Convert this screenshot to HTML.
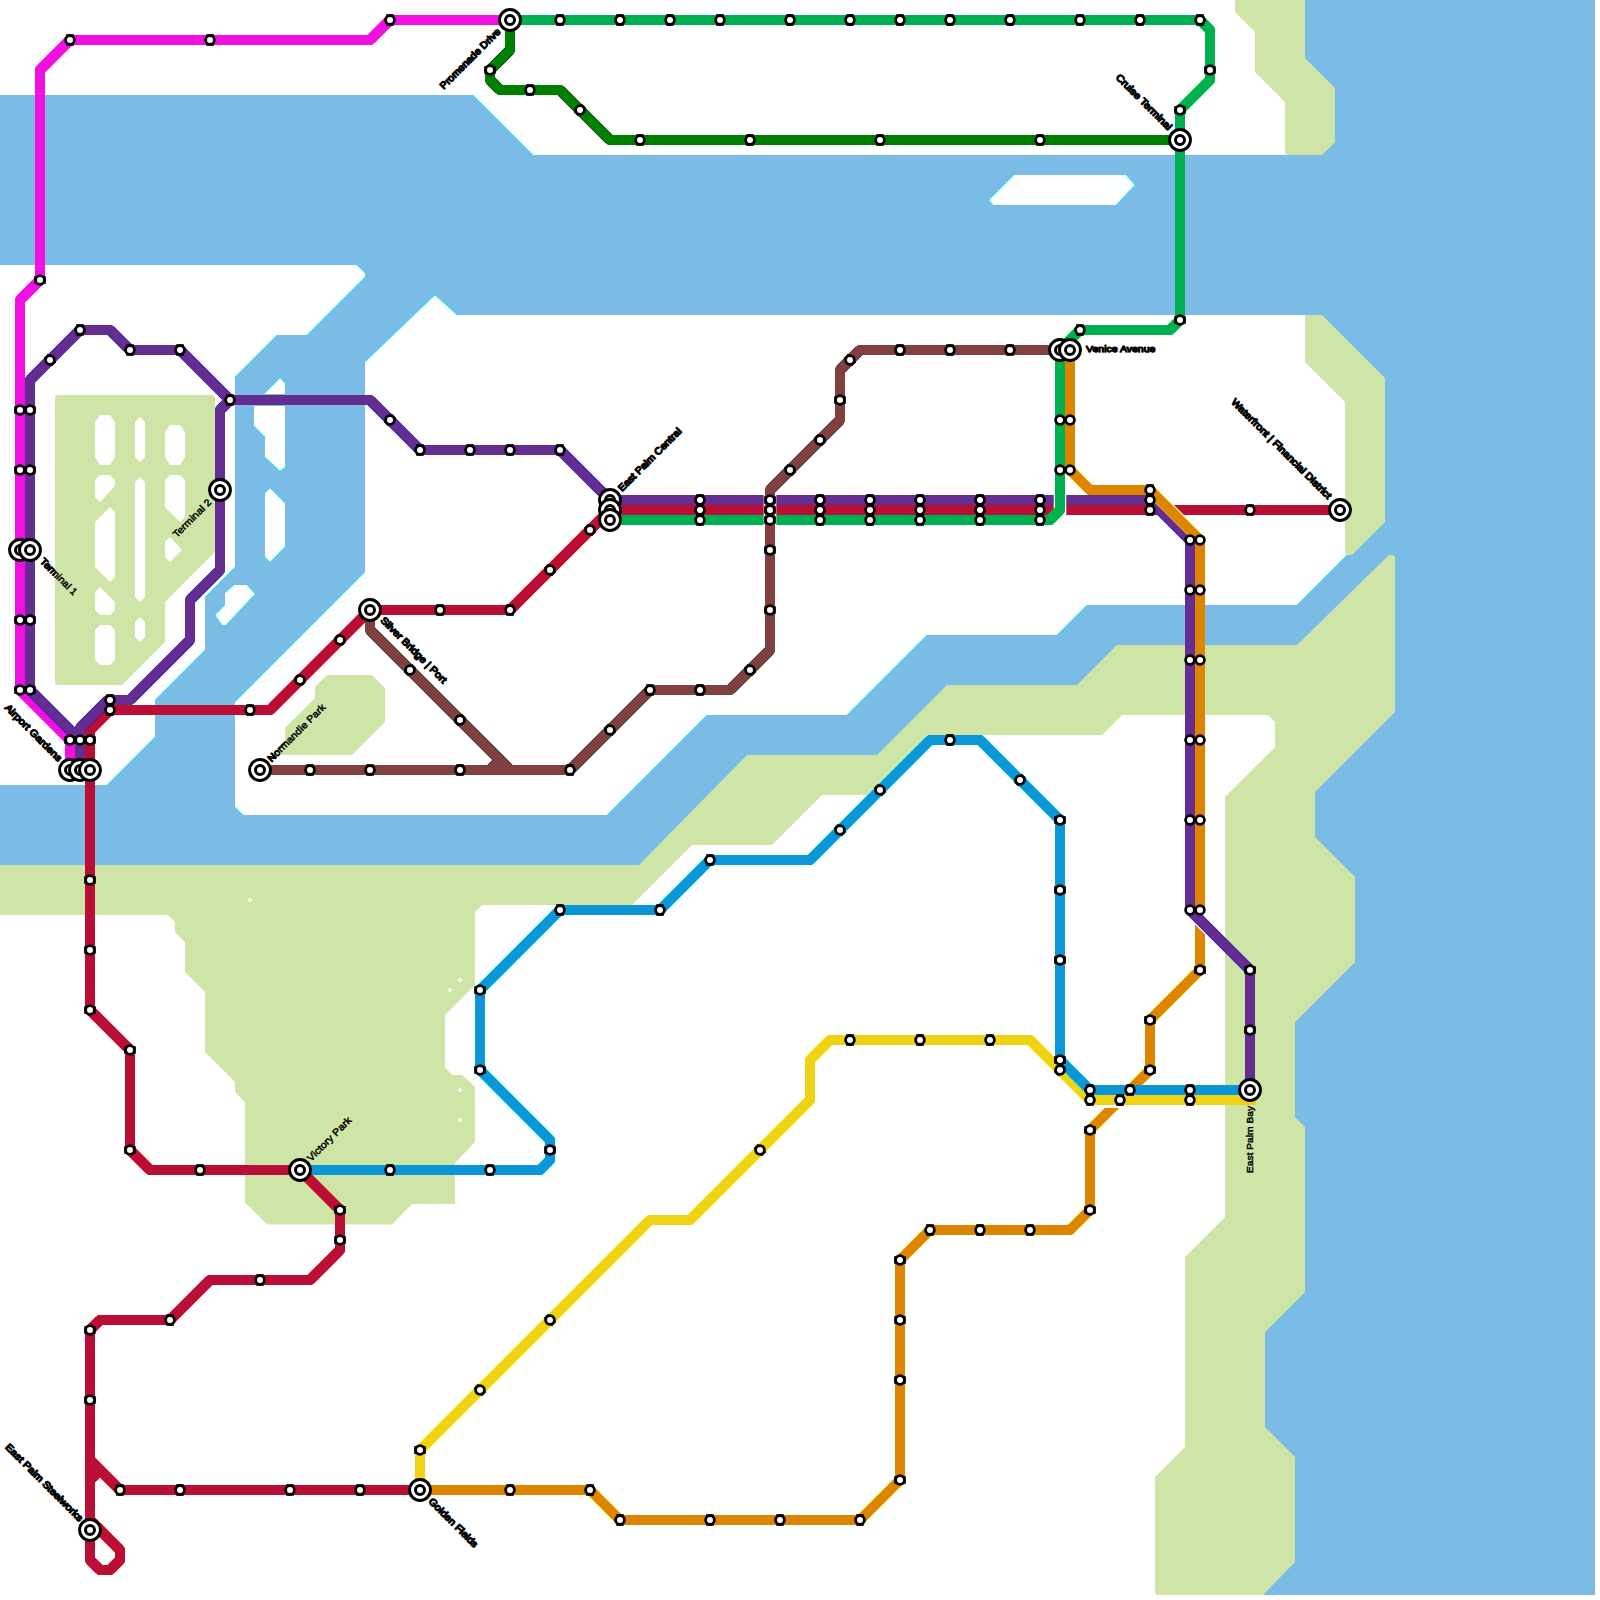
<!DOCTYPE html>
<html><head><meta charset="utf-8"><title>East Palm Transit Map</title>
<style>html,body{margin:0;padding:0;background:#fff}svg{display:block}text{font-family:"Liberation Sans",sans-serif;font-size:9.8px;fill:#000}.b{stroke:#000;stroke-width:1.25px;stroke-linejoin:round}</style>
</head><body>
<svg width="1600" height="1600" viewBox="0 0 1600 1600">
<rect width="1600" height="1600" fill="#fff"/>
<g fill="#7abce6">
<polygon points="0,95 473,95 533,155 1295,155 1295,0 1595,0 1595,1595 1250,1595 1250,1000 1290,960 1290,655 1120,655 1080,695 950,695 880,765 750,765 642,873 0,873 0,785 107,785 155,737 155,700 205,650 205,597 235,567 235,377 277,335 307,335 365,277 365,273 357,265 0,265"/>
</g>
<g fill="#fff">
<polygon points="457,315 1312,315 1312,360 1352,400 1352,550 1347,555 1297,605 1087,605 1057,635 927,635 847,715 707,715 607,815 243,815 235,807 235,702 365,572 365,362 435,295"/>
<polygon points="1014,175 1126,175 1135,185 1116,205 993,205 989,200"/>
<polygon points="264,394 280,378 285,383 285,394"/>
<polygon points="254,406 285,406 285,467 280,471 265,457 265,437 254,426"/>
<polygon points="270,488 285,503 285,547 270,562 265,557 265,493"/>
<polygon points="234,585 247,585 255,594 226,625 222,625 215,615 225,605 225,593"/>
</g>
<path d="M473,95L533,155M1250,1000L1290,960M1120,655L1080,695M950,695L880,765M750,765L642,873M107,785L155,737M155,700L205,650M205,597L235,567M235,377L277,335M307,335L365,277M365,273L357,265M1312,360L1352,400M1352,550L1347,555M1347,555L1297,605M1087,605L1057,635M927,635L847,715M707,715L607,815M243,815L235,807M235,702L365,572M365,362L435,295M435,295L457,315M1126,175L1135,185M1135,185L1116,205M993,205L989,200M989,200L1014,175M264,394L280,378M280,378L285,383M285,467L280,471M280,471L265,457M265,437L254,426M270,488L285,503M285,547L270,562M270,562L265,557M265,493L270,488M247,585L255,594M255,594L226,625M222,625L215,615M215,615L225,605M225,593L234,585" fill="none" stroke="#00ffff" stroke-width="0.8"/>
<g class="b">
<text x="501" y="32.5" text-anchor="end" textLength="81" lengthAdjust="spacingAndGlyphs" transform="rotate(-45 501 32.5)">Promenade Drive</text>
<text x="1168" y="130.7" text-anchor="end" textLength="74.5" lengthAdjust="spacingAndGlyphs" transform="rotate(45 1168 130.7)">Cruise Terminal</text>
<text x="1086" y="351.5" text-anchor="start" textLength="69.4" lengthAdjust="spacingAndGlyphs">Venice Avenue</text>
<text x="1327.5" y="499.5" text-anchor="end" textLength="137" lengthAdjust="spacingAndGlyphs" transform="rotate(45 1327.5 499.5)">Waterfront | Financial District</text>
<text x="622" y="492" text-anchor="start" textLength="85" lengthAdjust="spacingAndGlyphs" transform="rotate(-45 622 492)">East Palm Central</text>
<text x="39.5" y="562" text-anchor="start" textLength="48" lengthAdjust="spacingAndGlyphs" transform="rotate(45 39.5 562)">Terminal 1</text>
<text x="58" y="762" text-anchor="end" textLength="76" lengthAdjust="spacingAndGlyphs" transform="rotate(45 58 762)">Airport Gardens</text>
<text x="271.5" y="762.5" text-anchor="start" textLength="77" lengthAdjust="spacingAndGlyphs" transform="rotate(-45 271.5 762.5)">Normandie Park</text>
<text x="380" y="621" text-anchor="start" textLength="89" lengthAdjust="spacingAndGlyphs" transform="rotate(45 380 621)">Silver Bridge | Port</text>
<text x="79" y="1522" text-anchor="end" textLength="105" lengthAdjust="spacingAndGlyphs" transform="rotate(45 79 1522)">East Palm Steelworks</text>
<text x="428" y="1502" text-anchor="start" textLength="65.2" lengthAdjust="spacingAndGlyphs" transform="rotate(45 428 1502)">Golden Fields</text>
</g>
<g fill="#cfe5a7">
<polygon points="1235,0 1305,0 1305,58 1335,88 1335,142 1322,155 1287,155 1285,153 1285,102 1255,72 1255,32 1235,12"/>
<polygon points="1305,315 1322,315 1385,378 1385,522 1352,555 1347,555 1345,553 1345,402 1305,362"/>
<polygon points="0,865 639,865 747,755 877,755 947,685 1077,685 1117,645 1297,645 1387,557 1389,555 1393,555 1395,557 1395,712 1315,792 1315,837 1355,877 1355,962 1295,1022 1295,1117 1305,1127 1305,1292 1265,1332 1265,1427 1295,1457 1295,1562 1263,1595 1157,1595 1155,1593 1155,1477 1185,1447 1185,1257 1225,1217 1225,797 1275,747 1275,722 1268,715 1122,715 1102,735 927,735 867,795 822,795 772,845 692,845 632,905 482,905 475,912 475,985 445,1015 445,1067 452,1075 462,1075 475,1087 475,1142 455,1163 455,1204 412,1204 392,1224.5 267,1224.5 245,1202.5 245,1102 235,1092 235,1082 205,1052 205,992 185,972 185,942 175,932 175,922 168,915 0,915"/>
<polygon points="57,395 213,395 215,397 215,552 165,602 165,642 122,685 57,685 55,683 55,397"/>
<polygon points="327,675 372,675 385,688 385,722 352,755 275,755 285,744 285,728 315,698 315,687"/>
</g>
<g fill="#fff">
<polygon points="100,415 110,415 115,422 115,457 110,465 100,465 95,457 95,422"/>
<polygon points="100,475 110,475 115,480 115,486 100,502 95,497 95,480"/>
<polygon points="110,507 115,512 115,577 110,582 95,567 95,522"/>
<polygon points="100,587 115,602 115,610 110,615 100,615 95,610 95,592"/>
<polygon points="100,625 110,625 115,630 115,660 110,665 100,665 95,660 95,630"/>
<polygon points="140,417 145,422 145,457 140,462 135,457 135,422"/>
<polygon points="140,477 145,482 145,597 140,602 135,597 135,482"/>
<polygon points="140,617 145,622 145,637 140,642 135,637 135,622"/>
<polygon points="170,425 180,425 185,432 185,457 180,465 170,465 165,457 165,432"/>
<polygon points="170,475 180,475 185,480 185,517 180,522 165,507 165,480"/>
<polygon points="170,537 182,550 170,562 165,557 165,542"/>
<circle cx="250" cy="900" r="1.9"/>
<circle cx="460" cy="980" r="1.9"/>
<circle cx="450" cy="990" r="1.9"/>
<circle cx="460" cy="1090" r="1.9"/>
<circle cx="460" cy="1120" r="1.9"/>
</g>
<g fill="none" stroke-width="10" stroke-linejoin="miter" stroke-linecap="butt">
<path d="M1070,470L1090,490M1150,490L1200,540M1200,970L1150,1020M1150,1070L1090,1130M1090,1210L1070,1230M930,1230L900,1260M900,1480L860,1520M620,1520L590,1490" stroke="#ffff00" stroke-width="10.9"/>
<path d="M1070,350 L1070,470 L1090,490 L1150,490 L1200,540 L1200,970 L1150,1020 L1150,1070 L1090,1130 L1090,1210 L1070,1230 L930,1230 L900,1260 L900,1480 L860,1520 L620,1520 L590,1490 L420,1490" stroke="#de8500"/>
<polygon points="1194,912 1206,912 1206,935.5 1194,923.5" fill="#fff" stroke="none"/>
<polygon points="1100,1104 1124,1104 1124,1108 1100,1108" fill="#fff" stroke="none"/>
<path d="M420,1450L650,1220M690,1220L810,1100M810,1060L830,1040M1030,1040L1090,1100" stroke="#ffff00" stroke-width="10.9"/>
<path d="M420,1490 L420,1450 L650,1220 L690,1220 L810,1100 L810,1060 L830,1040 L1030,1040 L1090,1100 L1256,1100" stroke="#f0d214"/>
<path d="M540,1170L550,1160M550,1140L480,1070M480,990L560,910M660,910L710,860M810,860L930,740M980,740L1060,820M1060,1060L1090,1090" stroke="#00ffff" stroke-width="10.9"/>
<path d="M300,1170 L540,1170 L550,1160 L550,1140 L480,1070 L480,990 L560,910 L660,910 L710,860 L810,860 L930,740 L980,740 L1060,820 L1060,1060 L1090,1090 L1250,1090" stroke="#0a96d7"/>
<path d="M90,730L110,710M270,710L370,610M510,610L610,510M90,1010L130,1050M130,1150L150,1170M300,1170L340,1210M340,1250L310,1280M210,1280L170,1320M100,1320L90,1330M90,1560L100,1570M110,1570L120,1560M120,1550L90,1520M90,1460L120,1490M100,1470L90,1480" stroke="#ff0000" stroke-width="10.9"/>
<path d="M90,770 L90,730 L110,710 L270,710 L370,610 L510,610 L610,510 L1340,510" stroke="#b90f37"/>
<path d="M90,770 L90,1010 L130,1050 L130,1150 L150,1170 L300,1170 L340,1210 L340,1250 L310,1280 L210,1280 L170,1320 L100,1320 L90,1330 L90,1530 L90,1560 L100,1570 L110,1570 L120,1560 L120,1550 L90,1520" stroke="#b90f37"/>
<path d="M90,1460 L120,1490 L420,1490" stroke="#b90f37"/>
<path d="M100,1470 L90,1480" stroke="#b90f37"/>
<path d="M1158,498 L1200,540" stroke="#fff" stroke-width="12.6"/>
<path d="M390,20L370,40M70,40L40,70M40,280L20,300M20,690L70,740" stroke="#ff00ff" stroke-width="10.9"/>
<path d="M510,20 L390,20 L370,40 L70,40 L40,70 L40,280 L20,300 L20,690 L70,740 L70,770" stroke="#f010e0"/>
<path d="M80,740L30,690M30,380L80,330M110,330L130,350M180,350L230,400M80,728L108,700M130,700L190,640M190,600L220,570M220,410L230,400M370,400L420,450M560,450L610,500M1150,500L1190,540M1190,910L1250,970" stroke="#0000ff" stroke-width="10.9"/>
<path d="M80,770 L80,740 L30,690 L30,380 L80,330 L110,330 L130,350 L180,350 L230,400" stroke="#662d91"/>
<path d="M80,770 L80,728 L108,700 L130,700 L190,640 L190,600 L220,570 L220,410 L230,400 L370,400 L420,450 L560,450 L610,500 L1150,500 L1190,540 L1190,910 L1250,970 L1250,1090" stroke="#662d91"/>
<path d="M1150,490L1200,540" stroke="#ffff00" stroke-width="10.9"/>
<path d="M1090,490 L1150,490 L1200,540 L1200,560" stroke="#de8500"/>
<path d="M1060,493 L1060,512 L1051,521" stroke="#fff" stroke-width="12.6"/>
<path d="M510,50L490,70M490,80L500,90M560,90L610,140" stroke="#000000" stroke-width="10.9"/>
<path d="M510,20 L510,50 L490,70 L490,80 L500,90 L560,90 L610,140 L1180,140" stroke="#008000"/>
<path d="M1200,20L1210,30M1210,80L1180,110M1180,320L1170,330M1080,330L1060,350M1060,510L1050,520" stroke="#00ff00" stroke-width="10.9"/>
<path d="M510,20 L1200,20 L1210,30 L1210,80 L1180,110 L1180,320 L1170,330 L1080,330 L1060,350 L1060,510 L1050,520 L610,520" stroke="#00b050"/>
<path d="M770,493 L770,527" stroke="#fff" stroke-width="12.6"/>
<path d="M570,770L650,690M730,690L770,650M770,490L840,420M840,370L860,350M370,630L510,770M500,760L490,770" stroke="#000000" stroke-width="10.9"/>
<path d="M260,770 L570,770 L650,690 L730,690 L770,650 L770,490 L840,420 L840,370 L860,350 L1060,350" stroke="#804040"/>
<path d="M370,610 L370,630 L510,770" stroke="#804040"/>
<path d="M500,760 L490,770" stroke="#804040"/>
</g>
<g fill="#000">
<rect x="386.2" y="14.2" width="7.6" height="11.6"/>
<rect x="206.2" y="34.2" width="7.6" height="11.6"/>
<rect x="66.2" y="34.2" width="7.6" height="11.6"/>
<rect x="36.2" y="274.2" width="7.6" height="11.6" transform="rotate(90 40 280)"/>
<rect x="16.2" y="404.2" width="7.6" height="11.6" transform="rotate(90 20 410)"/>
<rect x="16.2" y="464.2" width="7.6" height="11.6" transform="rotate(90 20 470)"/>
<rect x="16.2" y="614.2" width="7.6" height="11.6" transform="rotate(90 20 620)"/>
<rect x="16.2" y="684.2" width="7.6" height="11.6" transform="rotate(90 20 690)"/>
<rect x="66.2" y="734.2" width="7.6" height="11.6" transform="rotate(90 70 740)"/>
<rect x="47.0" y="354.2" width="6.0" height="11.6" transform="rotate(-45 50 360)"/>
<rect x="76.2" y="324.2" width="7.6" height="11.6"/>
<rect x="126.2" y="344.2" width="7.6" height="11.6"/>
<rect x="176.2" y="344.2" width="7.6" height="11.6"/>
<rect x="226.2" y="394.2" width="7.6" height="11.6"/>
<rect x="26.2" y="404.2" width="7.6" height="11.6" transform="rotate(90 30 410)"/>
<rect x="26.2" y="464.2" width="7.6" height="11.6" transform="rotate(90 30 470)"/>
<rect x="26.2" y="614.2" width="7.6" height="11.6" transform="rotate(90 30 620)"/>
<rect x="26.2" y="684.2" width="7.6" height="11.6" transform="rotate(90 30 690)"/>
<rect x="76.2" y="734.2" width="7.6" height="11.6" transform="rotate(90 80 740)"/>
<rect x="106.2" y="694.2" width="7.6" height="11.6"/>
<rect x="387.0" y="414.2" width="6.0" height="11.6" transform="rotate(45 390 420)"/>
<rect x="416.2" y="444.2" width="7.6" height="11.6"/>
<rect x="466.2" y="444.2" width="7.6" height="11.6"/>
<rect x="506.2" y="444.2" width="7.6" height="11.6"/>
<rect x="556.2" y="444.2" width="7.6" height="11.6"/>
<rect x="696.2" y="494.2" width="7.6" height="11.6"/>
<rect x="696.2" y="504.2" width="7.6" height="11.6"/>
<rect x="696.2" y="514.2" width="7.6" height="11.6"/>
<rect x="816.2" y="494.2" width="7.6" height="11.6"/>
<rect x="816.2" y="504.2" width="7.6" height="11.6"/>
<rect x="816.2" y="514.2" width="7.6" height="11.6"/>
<rect x="866.2" y="494.2" width="7.6" height="11.6"/>
<rect x="866.2" y="504.2" width="7.6" height="11.6"/>
<rect x="866.2" y="514.2" width="7.6" height="11.6"/>
<rect x="916.2" y="494.2" width="7.6" height="11.6"/>
<rect x="916.2" y="504.2" width="7.6" height="11.6"/>
<rect x="916.2" y="514.2" width="7.6" height="11.6"/>
<rect x="976.2" y="494.2" width="7.6" height="11.6"/>
<rect x="976.2" y="504.2" width="7.6" height="11.6"/>
<rect x="976.2" y="514.2" width="7.6" height="11.6"/>
<rect x="1036.2" y="494.2" width="7.6" height="11.6"/>
<rect x="1036.2" y="504.2" width="7.6" height="11.6"/>
<rect x="1036.2" y="514.2" width="7.6" height="11.6"/>
<rect x="766.2" y="494.2" width="7.6" height="11.6" transform="rotate(90 770 500)"/>
<rect x="766.2" y="504.2" width="7.6" height="11.6" transform="rotate(90 770 510)"/>
<rect x="766.2" y="514.2" width="7.6" height="11.6" transform="rotate(90 770 520)"/>
<rect x="1146.2" y="484.2" width="7.6" height="11.6"/>
<rect x="1146.2" y="494.2" width="7.6" height="11.6"/>
<rect x="1146.2" y="504.2" width="7.6" height="11.6"/>
<rect x="1246.2" y="964.2" width="7.6" height="11.6" transform="rotate(90 1250 970)"/>
<rect x="1246.2" y="1024.2" width="7.6" height="11.6" transform="rotate(90 1250 1030)"/>
<rect x="556.2" y="14.2" width="7.6" height="11.6"/>
<rect x="616.2" y="14.2" width="7.6" height="11.6"/>
<rect x="666.2" y="14.2" width="7.6" height="11.6"/>
<rect x="716.2" y="14.2" width="7.6" height="11.6"/>
<rect x="786.2" y="14.2" width="7.6" height="11.6"/>
<rect x="846.2" y="14.2" width="7.6" height="11.6"/>
<rect x="896.2" y="14.2" width="7.6" height="11.6"/>
<rect x="946.2" y="14.2" width="7.6" height="11.6"/>
<rect x="1006.2" y="14.2" width="7.6" height="11.6"/>
<rect x="1076.2" y="14.2" width="7.6" height="11.6"/>
<rect x="1136.2" y="14.2" width="7.6" height="11.6"/>
<rect x="1196.2" y="14.2" width="7.6" height="11.6"/>
<rect x="1206.2" y="64.2" width="7.6" height="11.6" transform="rotate(90 1210 70)"/>
<rect x="1176.2" y="104.2" width="7.6" height="11.6" transform="rotate(90 1180 110)"/>
<rect x="1176.2" y="314.2" width="7.6" height="11.6" transform="rotate(90 1180 320)"/>
<rect x="1076.2" y="324.2" width="7.6" height="11.6"/>
<rect x="486.2" y="64.2" width="7.6" height="11.6" transform="rotate(90 490 70)"/>
<rect x="526.2" y="84.2" width="7.6" height="11.6"/>
<rect x="577.0" y="104.2" width="6.0" height="11.6" transform="rotate(45 580 110)"/>
<rect x="636.2" y="134.2" width="7.6" height="11.6"/>
<rect x="746.2" y="134.2" width="7.6" height="11.6"/>
<rect x="876.2" y="134.2" width="7.6" height="11.6"/>
<rect x="1036.2" y="134.2" width="7.6" height="11.6"/>
<rect x="86.2" y="734.2" width="7.6" height="11.6" transform="rotate(90 90 740)"/>
<rect x="106.2" y="704.2" width="7.6" height="11.6"/>
<rect x="246.2" y="704.2" width="7.6" height="11.6"/>
<rect x="297.0" y="674.2" width="6.0" height="11.6" transform="rotate(-45 300 680)"/>
<rect x="337.0" y="634.2" width="6.0" height="11.6" transform="rotate(-45 340 640)"/>
<rect x="436.2" y="604.2" width="7.6" height="11.6"/>
<rect x="506.2" y="604.2" width="7.6" height="11.6"/>
<rect x="547.0" y="564.2" width="6.0" height="11.6" transform="rotate(-45 550 570)"/>
<rect x="587.0" y="524.2" width="6.0" height="11.6" transform="rotate(-45 590 530)"/>
<rect x="1246.2" y="504.2" width="7.6" height="11.6"/>
<rect x="86.2" y="874.2" width="7.6" height="11.6" transform="rotate(90 90 880)"/>
<rect x="86.2" y="944.2" width="7.6" height="11.6" transform="rotate(90 90 950)"/>
<rect x="86.2" y="1004.2" width="7.6" height="11.6" transform="rotate(90 90 1010)"/>
<rect x="126.2" y="1044.2" width="7.6" height="11.6" transform="rotate(90 130 1050)"/>
<rect x="126.2" y="1144.2" width="7.6" height="11.6" transform="rotate(90 130 1150)"/>
<rect x="196.2" y="1164.2" width="7.6" height="11.6"/>
<rect x="336.2" y="1204.2" width="7.6" height="11.6" transform="rotate(90 340 1210)"/>
<rect x="336.2" y="1234.2" width="7.6" height="11.6" transform="rotate(90 340 1240)"/>
<rect x="256.2" y="1274.2" width="7.6" height="11.6"/>
<rect x="166.2" y="1314.2" width="7.6" height="11.6"/>
<rect x="86.2" y="1324.2" width="7.6" height="11.6" transform="rotate(90 90 1330)"/>
<rect x="86.2" y="1394.2" width="7.6" height="11.6" transform="rotate(90 90 1400)"/>
<rect x="116.2" y="1484.2" width="7.6" height="11.6"/>
<rect x="176.2" y="1484.2" width="7.6" height="11.6"/>
<rect x="286.2" y="1484.2" width="7.6" height="11.6"/>
<rect x="356.2" y="1484.2" width="7.6" height="11.6"/>
<rect x="306.2" y="764.2" width="7.6" height="11.6"/>
<rect x="366.2" y="764.2" width="7.6" height="11.6"/>
<rect x="456.2" y="764.2" width="7.6" height="11.6"/>
<rect x="566.2" y="764.2" width="7.6" height="11.6"/>
<rect x="607.0" y="724.2" width="6.0" height="11.6" transform="rotate(-45 610 730)"/>
<rect x="646.2" y="684.2" width="7.6" height="11.6"/>
<rect x="696.2" y="684.2" width="7.6" height="11.6"/>
<rect x="747.0" y="664.2" width="6.0" height="11.6" transform="rotate(-45 750 670)"/>
<rect x="766.2" y="604.2" width="7.6" height="11.6" transform="rotate(90 770 610)"/>
<rect x="766.2" y="544.2" width="7.6" height="11.6" transform="rotate(90 770 550)"/>
<rect x="787.0" y="464.2" width="6.0" height="11.6" transform="rotate(-45 790 470)"/>
<rect x="817.0" y="434.2" width="6.0" height="11.6" transform="rotate(-45 820 440)"/>
<rect x="836.2" y="394.2" width="7.6" height="11.6" transform="rotate(90 840 400)"/>
<rect x="847.0" y="354.2" width="6.0" height="11.6" transform="rotate(-45 850 360)"/>
<rect x="896.2" y="344.2" width="7.6" height="11.6"/>
<rect x="946.2" y="344.2" width="7.6" height="11.6"/>
<rect x="1006.2" y="344.2" width="7.6" height="11.6"/>
<rect x="407.0" y="664.2" width="6.0" height="11.6" transform="rotate(45 410 670)"/>
<rect x="457.0" y="714.2" width="6.0" height="11.6" transform="rotate(45 460 720)"/>
<rect x="386.2" y="1164.2" width="7.6" height="11.6"/>
<rect x="486.2" y="1164.2" width="7.6" height="11.6"/>
<rect x="546.2" y="1144.2" width="7.6" height="11.6" transform="rotate(90 550 1150)"/>
<rect x="476.2" y="1064.2" width="7.6" height="11.6" transform="rotate(90 480 1070)"/>
<rect x="476.2" y="984.2" width="7.6" height="11.6" transform="rotate(90 480 990)"/>
<rect x="556.2" y="904.2" width="7.6" height="11.6"/>
<rect x="656.2" y="904.2" width="7.6" height="11.6"/>
<rect x="706.2" y="854.2" width="7.6" height="11.6"/>
<rect x="837.0" y="824.2" width="6.0" height="11.6" transform="rotate(-45 840 830)"/>
<rect x="877.0" y="784.2" width="6.0" height="11.6" transform="rotate(-45 880 790)"/>
<rect x="946.2" y="734.2" width="7.6" height="11.6"/>
<rect x="1017.0" y="774.2" width="6.0" height="11.6" transform="rotate(45 1020 780)"/>
<rect x="1056.2" y="814.2" width="7.6" height="11.6" transform="rotate(90 1060 820)"/>
<rect x="1056.2" y="884.2" width="7.6" height="11.6" transform="rotate(90 1060 890)"/>
<rect x="1056.2" y="954.2" width="7.6" height="11.6" transform="rotate(90 1060 960)"/>
<rect x="1056.2" y="1054.2" width="7.6" height="11.6" transform="rotate(90 1060 1060)"/>
<rect x="1086.2" y="1084.2" width="7.6" height="11.6"/>
<rect x="1126.2" y="1084.2" width="7.6" height="11.6"/>
<rect x="1186.2" y="1084.2" width="7.6" height="11.6"/>
<rect x="416.2" y="1444.2" width="7.6" height="11.6" transform="rotate(90 420 1450)"/>
<rect x="477.0" y="1384.2" width="6.0" height="11.6" transform="rotate(-45 480 1390)"/>
<rect x="547.0" y="1314.2" width="6.0" height="11.6" transform="rotate(-45 550 1320)"/>
<rect x="757.0" y="1144.2" width="6.0" height="11.6" transform="rotate(-45 760 1150)"/>
<rect x="846.2" y="1034.2" width="7.6" height="11.6"/>
<rect x="916.2" y="1034.2" width="7.6" height="11.6"/>
<rect x="986.2" y="1034.2" width="7.6" height="11.6"/>
<rect x="1057.0" y="1064.2" width="6.0" height="11.6" transform="rotate(45 1060 1070)"/>
<rect x="1086.2" y="1094.2" width="7.6" height="11.6"/>
<rect x="1116.2" y="1094.2" width="7.6" height="11.6"/>
<rect x="1186.2" y="1094.2" width="7.6" height="11.6"/>
<rect x="1196.2" y="964.2" width="7.6" height="11.6" transform="rotate(90 1200 970)"/>
<rect x="1146.2" y="1014.2" width="7.6" height="11.6" transform="rotate(90 1150 1020)"/>
<rect x="1146.2" y="1064.2" width="7.6" height="11.6" transform="rotate(90 1150 1070)"/>
<rect x="1086.2" y="1124.2" width="7.6" height="11.6" transform="rotate(90 1090 1130)"/>
<rect x="1086.2" y="1204.2" width="7.6" height="11.6" transform="rotate(90 1090 1210)"/>
<rect x="926.2" y="1224.2" width="7.6" height="11.6"/>
<rect x="976.2" y="1224.2" width="7.6" height="11.6"/>
<rect x="1026.2" y="1224.2" width="7.6" height="11.6"/>
<rect x="896.2" y="1254.2" width="7.6" height="11.6" transform="rotate(90 900 1260)"/>
<rect x="896.2" y="1314.2" width="7.6" height="11.6" transform="rotate(90 900 1320)"/>
<rect x="896.2" y="1374.2" width="7.6" height="11.6" transform="rotate(90 900 1380)"/>
<rect x="896.2" y="1474.2" width="7.6" height="11.6" transform="rotate(90 900 1480)"/>
<rect x="856.2" y="1514.2" width="7.6" height="11.6"/>
<rect x="776.2" y="1514.2" width="7.6" height="11.6"/>
<rect x="706.2" y="1514.2" width="7.6" height="11.6"/>
<rect x="616.2" y="1514.2" width="7.6" height="11.6"/>
<rect x="586.2" y="1484.2" width="7.6" height="11.6"/>
<rect x="506.2" y="1484.2" width="7.6" height="11.6"/>
</g>
<g fill="#fff" stroke="#000" stroke-width="2.8">
<circle cx="390" cy="20" r="4.4"/>
<circle cx="210" cy="40" r="4.4"/>
<circle cx="70" cy="40" r="4.4"/>
<circle cx="40" cy="280" r="4.4"/>
<circle cx="20" cy="410" r="4.4"/>
<circle cx="20" cy="470" r="4.4"/>
<circle cx="20" cy="620" r="4.4"/>
<circle cx="20" cy="690" r="4.4"/>
<circle cx="70" cy="740" r="4.4"/>
<circle cx="50" cy="360" r="4.4"/>
<circle cx="80" cy="330" r="4.4"/>
<circle cx="130" cy="350" r="4.4"/>
<circle cx="180" cy="350" r="4.4"/>
<circle cx="230" cy="400" r="4.4"/>
<circle cx="30" cy="410" r="4.4"/>
<circle cx="30" cy="470" r="4.4"/>
<circle cx="30" cy="620" r="4.4"/>
<circle cx="30" cy="690" r="4.4"/>
<circle cx="80" cy="740" r="4.4"/>
<circle cx="110" cy="700" r="4.4"/>
<circle cx="390" cy="420" r="4.4"/>
<circle cx="420" cy="450" r="4.4"/>
<circle cx="470" cy="450" r="4.4"/>
<circle cx="510" cy="450" r="4.4"/>
<circle cx="560" cy="450" r="4.4"/>
<circle cx="700" cy="500" r="4.4"/>
<circle cx="700" cy="510" r="4.4"/>
<circle cx="700" cy="520" r="4.4"/>
<circle cx="820" cy="500" r="4.4"/>
<circle cx="820" cy="510" r="4.4"/>
<circle cx="820" cy="520" r="4.4"/>
<circle cx="870" cy="500" r="4.4"/>
<circle cx="870" cy="510" r="4.4"/>
<circle cx="870" cy="520" r="4.4"/>
<circle cx="920" cy="500" r="4.4"/>
<circle cx="920" cy="510" r="4.4"/>
<circle cx="920" cy="520" r="4.4"/>
<circle cx="980" cy="500" r="4.4"/>
<circle cx="980" cy="510" r="4.4"/>
<circle cx="980" cy="520" r="4.4"/>
<circle cx="1040" cy="500" r="4.4"/>
<circle cx="1040" cy="510" r="4.4"/>
<circle cx="1040" cy="520" r="4.4"/>
<circle cx="770" cy="500" r="4.4"/>
<circle cx="770" cy="510" r="4.4"/>
<circle cx="770" cy="520" r="4.4"/>
<circle cx="1150" cy="490" r="4.4"/>
<circle cx="1150" cy="500" r="4.4"/>
<circle cx="1150" cy="510" r="4.4"/>
<circle cx="1190" cy="540" r="4.4"/>
<circle cx="1200" cy="540" r="4.4"/>
<circle cx="1190" cy="590" r="4.4"/>
<circle cx="1200" cy="590" r="4.4"/>
<circle cx="1190" cy="660" r="4.4"/>
<circle cx="1200" cy="660" r="4.4"/>
<circle cx="1190" cy="740" r="4.4"/>
<circle cx="1200" cy="740" r="4.4"/>
<circle cx="1190" cy="820" r="4.4"/>
<circle cx="1200" cy="820" r="4.4"/>
<circle cx="1190" cy="910" r="4.4"/>
<circle cx="1200" cy="910" r="4.4"/>
<circle cx="1250" cy="970" r="4.4"/>
<circle cx="1250" cy="1030" r="4.4"/>
<circle cx="1060" cy="420" r="4.4"/>
<circle cx="1070" cy="420" r="4.4"/>
<circle cx="1060" cy="470" r="4.4"/>
<circle cx="1070" cy="470" r="4.4"/>
<circle cx="560" cy="20" r="4.4"/>
<circle cx="620" cy="20" r="4.4"/>
<circle cx="670" cy="20" r="4.4"/>
<circle cx="720" cy="20" r="4.4"/>
<circle cx="790" cy="20" r="4.4"/>
<circle cx="850" cy="20" r="4.4"/>
<circle cx="900" cy="20" r="4.4"/>
<circle cx="950" cy="20" r="4.4"/>
<circle cx="1010" cy="20" r="4.4"/>
<circle cx="1080" cy="20" r="4.4"/>
<circle cx="1140" cy="20" r="4.4"/>
<circle cx="1200" cy="20" r="4.4"/>
<circle cx="1210" cy="70" r="4.4"/>
<circle cx="1180" cy="110" r="4.4"/>
<circle cx="1180" cy="320" r="4.4"/>
<circle cx="1080" cy="330" r="4.4"/>
<circle cx="490" cy="70" r="4.4"/>
<circle cx="530" cy="90" r="4.4"/>
<circle cx="580" cy="110" r="4.4"/>
<circle cx="640" cy="140" r="4.4"/>
<circle cx="750" cy="140" r="4.4"/>
<circle cx="880" cy="140" r="4.4"/>
<circle cx="1040" cy="140" r="4.4"/>
<circle cx="90" cy="740" r="4.4"/>
<circle cx="110" cy="710" r="4.4"/>
<circle cx="250" cy="710" r="4.4"/>
<circle cx="300" cy="680" r="4.4"/>
<circle cx="340" cy="640" r="4.4"/>
<circle cx="440" cy="610" r="4.4"/>
<circle cx="510" cy="610" r="4.4"/>
<circle cx="550" cy="570" r="4.4"/>
<circle cx="590" cy="530" r="4.4"/>
<circle cx="1250" cy="510" r="4.4"/>
<circle cx="90" cy="880" r="4.4"/>
<circle cx="90" cy="950" r="4.4"/>
<circle cx="90" cy="1010" r="4.4"/>
<circle cx="130" cy="1050" r="4.4"/>
<circle cx="130" cy="1150" r="4.4"/>
<circle cx="200" cy="1170" r="4.4"/>
<circle cx="340" cy="1210" r="4.4"/>
<circle cx="340" cy="1240" r="4.4"/>
<circle cx="260" cy="1280" r="4.4"/>
<circle cx="170" cy="1320" r="4.4"/>
<circle cx="90" cy="1330" r="4.4"/>
<circle cx="90" cy="1400" r="4.4"/>
<circle cx="120" cy="1490" r="4.4"/>
<circle cx="180" cy="1490" r="4.4"/>
<circle cx="290" cy="1490" r="4.4"/>
<circle cx="360" cy="1490" r="4.4"/>
<circle cx="310" cy="770" r="4.4"/>
<circle cx="370" cy="770" r="4.4"/>
<circle cx="460" cy="770" r="4.4"/>
<circle cx="570" cy="770" r="4.4"/>
<circle cx="610" cy="730" r="4.4"/>
<circle cx="650" cy="690" r="4.4"/>
<circle cx="700" cy="690" r="4.4"/>
<circle cx="750" cy="670" r="4.4"/>
<circle cx="770" cy="610" r="4.4"/>
<circle cx="770" cy="550" r="4.4"/>
<circle cx="790" cy="470" r="4.4"/>
<circle cx="820" cy="440" r="4.4"/>
<circle cx="840" cy="400" r="4.4"/>
<circle cx="850" cy="360" r="4.4"/>
<circle cx="900" cy="350" r="4.4"/>
<circle cx="950" cy="350" r="4.4"/>
<circle cx="1010" cy="350" r="4.4"/>
<circle cx="410" cy="670" r="4.4"/>
<circle cx="460" cy="720" r="4.4"/>
<circle cx="390" cy="1170" r="4.4"/>
<circle cx="490" cy="1170" r="4.4"/>
<circle cx="550" cy="1150" r="4.4"/>
<circle cx="480" cy="1070" r="4.4"/>
<circle cx="480" cy="990" r="4.4"/>
<circle cx="560" cy="910" r="4.4"/>
<circle cx="660" cy="910" r="4.4"/>
<circle cx="710" cy="860" r="4.4"/>
<circle cx="840" cy="830" r="4.4"/>
<circle cx="880" cy="790" r="4.4"/>
<circle cx="950" cy="740" r="4.4"/>
<circle cx="1020" cy="780" r="4.4"/>
<circle cx="1060" cy="820" r="4.4"/>
<circle cx="1060" cy="890" r="4.4"/>
<circle cx="1060" cy="960" r="4.4"/>
<circle cx="1060" cy="1060" r="4.4"/>
<circle cx="1090" cy="1090" r="4.4"/>
<circle cx="1130" cy="1090" r="4.4"/>
<circle cx="1190" cy="1090" r="4.4"/>
<circle cx="420" cy="1450" r="4.4"/>
<circle cx="480" cy="1390" r="4.4"/>
<circle cx="550" cy="1320" r="4.4"/>
<circle cx="760" cy="1150" r="4.4"/>
<circle cx="850" cy="1040" r="4.4"/>
<circle cx="920" cy="1040" r="4.4"/>
<circle cx="990" cy="1040" r="4.4"/>
<circle cx="1060" cy="1070" r="4.4"/>
<circle cx="1090" cy="1100" r="4.4"/>
<circle cx="1120" cy="1100" r="4.4"/>
<circle cx="1190" cy="1100" r="4.4"/>
<circle cx="1200" cy="970" r="4.4"/>
<circle cx="1150" cy="1020" r="4.4"/>
<circle cx="1150" cy="1070" r="4.4"/>
<circle cx="1090" cy="1130" r="4.4"/>
<circle cx="1090" cy="1210" r="4.4"/>
<circle cx="930" cy="1230" r="4.4"/>
<circle cx="980" cy="1230" r="4.4"/>
<circle cx="1030" cy="1230" r="4.4"/>
<circle cx="900" cy="1260" r="4.4"/>
<circle cx="900" cy="1320" r="4.4"/>
<circle cx="900" cy="1380" r="4.4"/>
<circle cx="900" cy="1480" r="4.4"/>
<circle cx="860" cy="1520" r="4.4"/>
<circle cx="780" cy="1520" r="4.4"/>
<circle cx="710" cy="1520" r="4.4"/>
<circle cx="620" cy="1520" r="4.4"/>
<circle cx="590" cy="1490" r="4.4"/>
<circle cx="510" cy="1490" r="4.4"/>
</g>
<g fill="#fff" stroke="#000">
<circle cx="510" cy="20" r="10.45" stroke-width="2.9"/><circle cx="510" cy="20" r="4.5" stroke-width="3"/>
<circle cx="1180" cy="140" r="10.45" stroke-width="2.9"/><circle cx="1180" cy="140" r="4.5" stroke-width="3"/>
<circle cx="1060" cy="350" r="10.45" stroke-width="2.9"/><circle cx="1060" cy="350" r="4.5" stroke-width="3"/>
<circle cx="1070" cy="350" r="10.45" stroke-width="2.9"/><circle cx="1070" cy="350" r="4.5" stroke-width="3"/>
<circle cx="1340" cy="510" r="10.45" stroke-width="2.9"/><circle cx="1340" cy="510" r="4.5" stroke-width="3"/>
<circle cx="610" cy="500" r="10.45" stroke-width="2.9"/><circle cx="610" cy="500" r="4.5" stroke-width="3"/>
<circle cx="610" cy="510" r="10.45" stroke-width="2.9"/><circle cx="610" cy="510" r="4.5" stroke-width="3"/>
<circle cx="610" cy="520" r="10.45" stroke-width="2.9"/><circle cx="610" cy="520" r="4.5" stroke-width="3"/>
<circle cx="220" cy="490" r="10.45" stroke-width="2.9"/><circle cx="220" cy="490" r="4.5" stroke-width="3"/>
<circle cx="20" cy="550" r="10.45" stroke-width="2.9"/><circle cx="20" cy="550" r="4.5" stroke-width="3"/>
<circle cx="30" cy="550" r="10.45" stroke-width="2.9"/><circle cx="30" cy="550" r="4.5" stroke-width="3"/>
<circle cx="70" cy="770" r="10.45" stroke-width="2.9"/><circle cx="70" cy="770" r="4.5" stroke-width="3"/>
<circle cx="80" cy="770" r="10.45" stroke-width="2.9"/><circle cx="80" cy="770" r="4.5" stroke-width="3"/>
<circle cx="90" cy="770" r="10.45" stroke-width="2.9"/><circle cx="90" cy="770" r="4.5" stroke-width="3"/>
<circle cx="260" cy="770" r="10.45" stroke-width="2.9"/><circle cx="260" cy="770" r="4.5" stroke-width="3"/>
<circle cx="370" cy="610" r="10.45" stroke-width="2.9"/><circle cx="370" cy="610" r="4.5" stroke-width="3"/>
<circle cx="300" cy="1170" r="10.45" stroke-width="2.9"/><circle cx="300" cy="1170" r="4.5" stroke-width="3"/>
<circle cx="1250" cy="1090" r="10.45" stroke-width="2.9"/><circle cx="1250" cy="1090" r="4.5" stroke-width="3"/>
<circle cx="90" cy="1530" r="10.45" stroke-width="2.9"/><circle cx="90" cy="1530" r="4.5" stroke-width="3"/>
<circle cx="420" cy="1490" r="10.45" stroke-width="2.9"/><circle cx="420" cy="1490" r="4.5" stroke-width="3"/>
</g>
<clipPath id="gc">
<polygon points="1235,0 1305,0 1305,58 1335,88 1335,142 1322,155 1287,155 1285,153 1285,102 1255,72 1255,32 1235,12"/>
<polygon points="1305,315 1322,315 1385,378 1385,522 1352,555 1347,555 1345,553 1345,402 1305,362"/>
<polygon points="0,865 639,865 747,755 877,755 947,685 1077,685 1117,645 1297,645 1387,557 1389,555 1393,555 1395,557 1395,712 1315,792 1315,837 1355,877 1355,962 1295,1022 1295,1117 1305,1127 1305,1292 1265,1332 1265,1427 1295,1457 1295,1562 1263,1595 1157,1595 1155,1593 1155,1477 1185,1447 1185,1257 1225,1217 1225,797 1275,747 1275,722 1268,715 1122,715 1102,735 927,735 867,795 822,795 772,845 692,845 632,905 482,905 475,912 475,985 445,1015 445,1067 452,1075 462,1075 475,1087 475,1142 455,1163 455,1204 412,1204 392,1224.5 267,1224.5 245,1202.5 245,1102 235,1092 235,1082 205,1052 205,992 185,972 185,942 175,932 175,922 168,915 0,915"/>
<polygon points="57,395 213,395 215,397 215,552 165,602 165,642 122,685 57,685 55,683 55,397"/>
<polygon points="327,675 372,675 385,688 385,722 352,755 275,755 285,744 285,728 315,698 315,687"/>
</clipPath>
<g stroke="#000" stroke-width="0.45" clip-path="url(#gc)" style="font-size:10.6px">
<text x="501" y="32.5" text-anchor="end" textLength="81" lengthAdjust="spacingAndGlyphs" transform="rotate(-45 501 32.5)">Promenade Drive</text>
<text x="1168" y="130.7" text-anchor="end" textLength="74.5" lengthAdjust="spacingAndGlyphs" transform="rotate(45 1168 130.7)">Cruise Terminal</text>
<text x="1086" y="351.5" text-anchor="start" textLength="69.4" lengthAdjust="spacingAndGlyphs">Venice Avenue</text>
<text x="1327.5" y="499.5" text-anchor="end" textLength="137" lengthAdjust="spacingAndGlyphs" transform="rotate(45 1327.5 499.5)">Waterfront | Financial District</text>
<text x="622" y="492" text-anchor="start" textLength="85" lengthAdjust="spacingAndGlyphs" transform="rotate(-45 622 492)">East Palm Central</text>
<text x="212" y="503" text-anchor="end" textLength="50" lengthAdjust="spacingAndGlyphs" transform="rotate(-45 212 503)">Terminal 2</text>
<text x="39.5" y="562" text-anchor="start" textLength="48" lengthAdjust="spacingAndGlyphs" transform="rotate(45 39.5 562)">Terminal 1</text>
<text x="58" y="762" text-anchor="end" textLength="76" lengthAdjust="spacingAndGlyphs" transform="rotate(45 58 762)">Airport Gardens</text>
<text x="271.5" y="762.5" text-anchor="start" textLength="77" lengthAdjust="spacingAndGlyphs" transform="rotate(-45 271.5 762.5)">Normandie Park</text>
<text x="380" y="621" text-anchor="start" textLength="89" lengthAdjust="spacingAndGlyphs" transform="rotate(45 380 621)">Silver Bridge | Port</text>
<text x="311" y="1162" text-anchor="start" textLength="58" lengthAdjust="spacingAndGlyphs" transform="rotate(-45 311 1162)">Victory Park</text>
<text x="1253" y="1106" text-anchor="end" textLength="67" lengthAdjust="spacingAndGlyphs" transform="rotate(-90 1253 1106)">East Palm Bay</text>
<text x="79" y="1522" text-anchor="end" textLength="105" lengthAdjust="spacingAndGlyphs" transform="rotate(45 79 1522)">East Palm Steelworks</text>
<text x="428" y="1502" text-anchor="start" textLength="65.2" lengthAdjust="spacingAndGlyphs" transform="rotate(45 428 1502)">Golden Fields</text>
</g>
</svg>
</body></html>
